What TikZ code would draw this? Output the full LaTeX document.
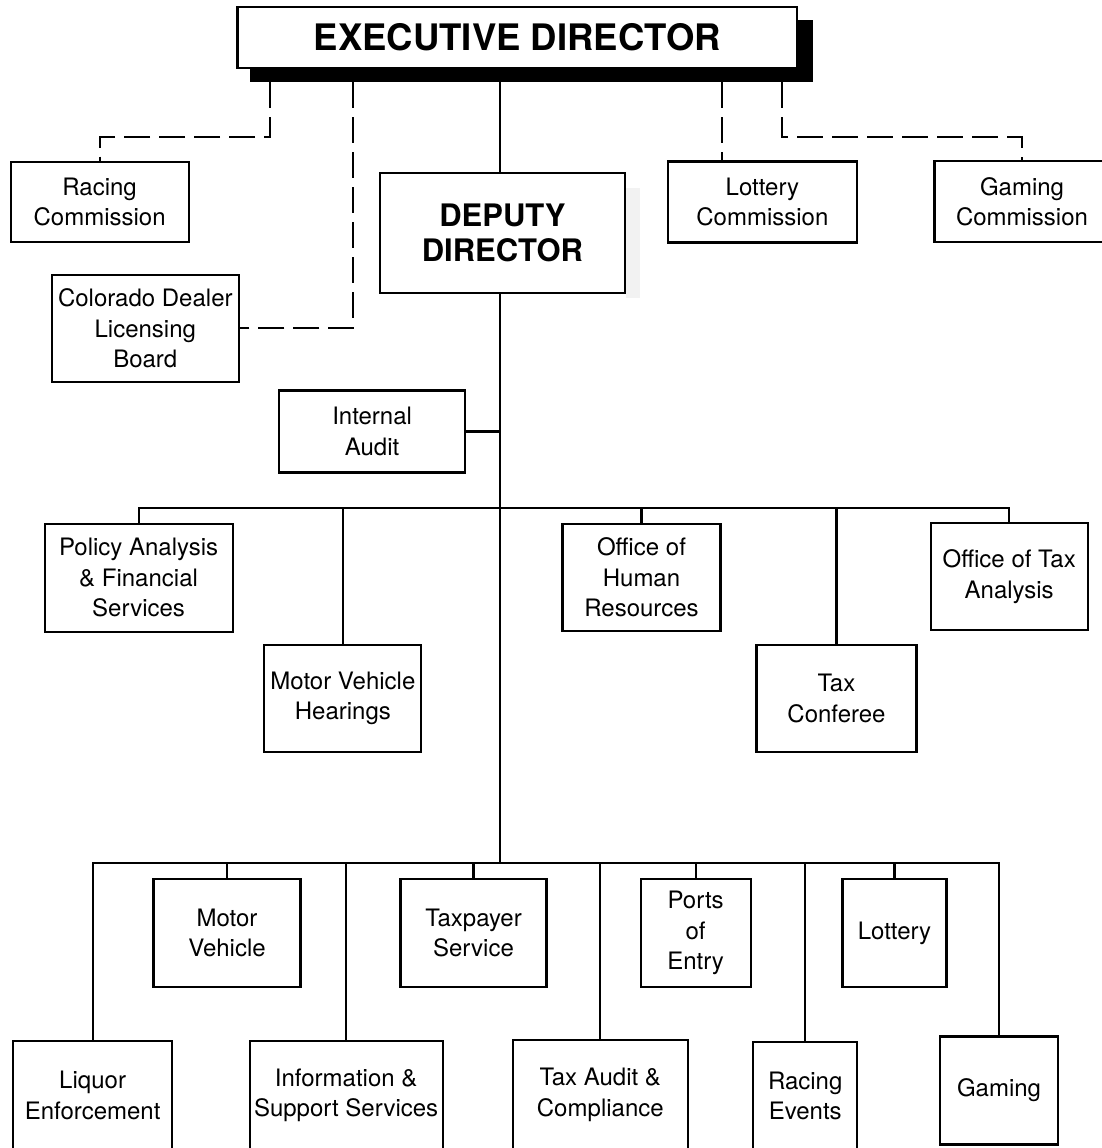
\documentclass[tikz,border=0pt]{standalone}
\usepackage{fontspec}
\setmainfont{TeX Gyre Heros}
\usepackage{tikz}

\tikzset{
	unit/.style={draw,line width=2.1pt,fill=white,align=center,inner sep=0pt,font=\fontsize{24}{30.5}\selectfont},
	chief/.style={unit,font=\fontsize{31}{35}\selectfont\bfseries},
	link/.style={line width=2.1pt},
	dotlink/.style={line width=2.1pt,dash pattern=on 26pt off 9pt}
}

\begin{document}
\begin{tikzpicture}[x=1pt,y=-1pt]
	\useasboundingbox (0,0) rectangle (1102,1148);
	\clip (0,0) rectangle (1102,1148);
	% top
	\fill[black] (249.5,20) rectangle (813,82);
	\node[chief,line width=2.4pt,font=\fontsize{36.5}{40}\selectfont\bfseries,minimum width=559.5pt,minimum height=61pt] (exec) at (517.3,37.5) {EXECUTIVE DIRECTOR};
	\coordinate (tap1) at (270,82);
	\coordinate (tap2) at (353,82);
	\coordinate (tap3) at (500,82);
	\coordinate (tap4) at (722,82);
	\coordinate (tap5) at (782,82);
	\fill[black!5] (626,188) rectangle (640,298);
	\node[unit,minimum width=178pt,minimum height=80pt] (raccom) at (99.6,202.2) {Racing\\Commission};
	\node[unit,minimum width=187pt,minimum height=107pt] (colbrd) at (145.3,328.3) {Colorado Dealer\\Licensing\\Board};
	\node[chief,minimum width=245pt,minimum height=120pt] (depdir) at (502.4,233.3) {DEPUTY\\DIRECTOR};
	\node[unit,minimum width=189pt,minimum height=81pt] (lotcom) at (762.4,202) {Lottery\\Commission};
	\node[unit,minimum width=175pt,minimum height=81pt] (gamcom) at (1022,201.7) {Gaming\\Commission};
	\draw[dotlink] (tap1) -- ++(0,55) -| (raccom.north);
	\draw[dotlink] (tap2) |- (colbrd.east);
	\draw[link] (tap3) -- (tap3 |- depdir.north);
	\draw[dotlink] (tap4) -- (tap4 |- lotcom.north);
	\draw[dotlink] (tap5) -- ++(0,55) -| (gamcom.north);
	% staff offices
	\coordinate (bar1) at (500,507.7);
	\coordinate (bar2) at (500,863.3);
	\node[unit,minimum width=186pt,minimum height=82pt] (intaud) at (372.1,431.5) {Internal\\Audit};
	\node[unit,minimum width=188pt,minimum height=108pt] (polfin) at (138.6,577.9) {Policy Analysis\\\& Financial\\Services};
	\node[unit,minimum width=157pt,minimum height=107pt] (mvhear) at (342.9,698.4) {Motor Vehicle\\Hearings};
	\node[unit,minimum width=158pt,minimum height=107pt] (humres) at (641.5,577.4) {Office of\\Human\\Resources};
	\node[unit,minimum width=160pt,minimum height=107pt] (taxconf) at (836.5,698.5) {Tax\\Conferee};
	\node[unit,minimum width=157pt,minimum height=107pt] (taxana) at (1009.2,576.7) {Office of Tax\\Analysis};
	\draw[link] (tap3 |- depdir.south) -- (bar2);
	\draw[link] (intaud.east) -- (intaud.east -| bar1);
	\draw[link] (polfin.north) |- (bar1) -| (taxana.north);
	\foreach \n in {mvhear,humres,taxconf}
	\draw[link] (\n.north) -- (\n.north |- bar1);
	% divisions
	\node[unit,minimum width=159pt,minimum height=109pt] (liquor) at (92.6,1095.5) {Liquor\\Enforcement};
	\node[unit,minimum width=147pt,minimum height=108pt] (motveh) at (227,932.9) {Motor\\Vehicle};
	\node[unit,minimum width=193pt,minimum height=109pt] (infsup) at (346.1,1095.5) {Information \&\\Support Services};
	\node[unit,minimum width=146pt,minimum height=108pt] (taxpay) at (473.5,932.9) {Taxpayer\\Service};
	\node[unit,minimum width=175pt,minimum height=110pt] (taxaud) at (600.3,1095) {Tax Audit \&\\Compliance};
	\node[unit,minimum width=110pt,minimum height=108pt] (ports) at (695.6,933) {Ports\\of\\Entry};
	\node[unit,minimum width=104pt,minimum height=108pt] (raceev) at (805.2,1095.9) {Racing\\Events};
	\node[unit,minimum width=104pt,minimum height=108pt] (lotdiv) at (894.5,933) {Lottery};
	\node[unit,minimum width=118pt,minimum height=108pt] (gamdiv) at (999,1090.5) {Gaming};
	\draw[link] (liquor.north) |- (bar2) -| (gamdiv.north);
	\foreach \n in {motveh,infsup,taxpay,taxaud,ports,raceev,lotdiv}
	\draw[link] (\n.north) -- (\n.north |- bar2);
\end{tikzpicture}
\end{document}
